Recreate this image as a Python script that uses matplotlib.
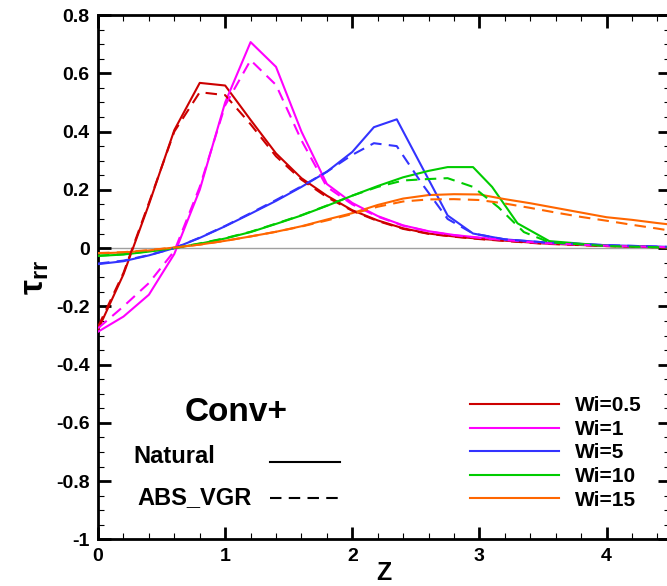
import matplotlib
matplotlib.use('Agg')
import matplotlib.pyplot as plt
from matplotlib.ticker import MultipleLocator, FuncFormatter

plt.rcParams['font.family'] = ['Liberation Sans', 'DejaVu Sans']
plt.rcParams['font.weight'] = 'bold'
plt.rcParams['axes.unicode_minus'] = False
plt.rcParams['mathtext.fontset'] = 'custom'
plt.rcParams['mathtext.rm'] = 'Liberation Sans'
plt.rcParams['mathtext.it'] = 'Liberation Sans'
plt.rcParams['mathtext.bf'] = 'Liberation Sans:bold'

# ---- data (Z, tau_rr) ----
labels = ['Wi=0.5', 'Wi=1', 'Wi=5', 'Wi=10', 'Wi=15']
colors = ['#CC0000', '#FF00FF', '#3333FF', '#00CC00', '#FF6600']

z_grid = [0, 0.2, 0.4, 0.6, 0.8, 1.0, 1.2, 1.4, 1.6, 1.8, 2.0, 2.2, 2.4, 2.6, 2.8, 3.0, 3.5, 4.0, 4.5]

wi05_nat = [-0.28, -0.09, 0.15, 0.405, 0.567, 0.558, 0.44, 0.325, 0.24, 0.18, 0.13, 0.095, 0.068, 0.05, 0.04, 0.032, 0.016, 0.007, 0.002]
wi05_abs = [-0.27, -0.085, 0.155, 0.40, 0.535, 0.525, 0.425, 0.315, 0.235, 0.175, 0.128, 0.093, 0.066, 0.049, 0.039, 0.031, 0.015, 0.007, 0.002]

wi1_nat = [-0.287, -0.235, -0.16, -0.02, 0.20, 0.50, 0.707, 0.622, 0.40, 0.22, 0.155, 0.11, 0.078, 0.058, 0.045, 0.036, 0.018, 0.008, 0.003]
wi1_abs = [-0.275, -0.20, -0.12, -0.01, 0.21, 0.49, 0.645, 0.56, 0.37, 0.21, 0.15, 0.108, 0.077, 0.057, 0.044, 0.035, 0.017, 0.008, 0.003]

z_wi5_nat = [0, 0.2, 0.4, 0.6, 0.8, 1.0, 1.2, 1.4, 1.6, 1.8, 2.0, 2.17, 2.35, 2.75, 2.95, 3.2, 3.5, 4.0, 4.5]
wi5_nat = [-0.055, -0.045, -0.025, 0.0, 0.035, 0.075, 0.118, 0.162, 0.21, 0.262, 0.33, 0.415, 0.442, 0.112, 0.05, 0.03, 0.02, 0.01, 0.004]
z_wi5_abs = [0, 0.2, 0.4, 0.6, 0.8, 1.0, 1.2, 1.4, 1.6, 1.8, 2.0, 2.17, 2.35, 2.55, 2.75, 2.95, 3.2, 3.5, 4.0, 4.5]
wi5_abs = [-0.053, -0.043, -0.024, 0.0, 0.036, 0.076, 0.12, 0.165, 0.212, 0.262, 0.32, 0.36, 0.35, 0.22, 0.10, 0.05, 0.03, 0.02, 0.01, 0.004]

z_wi10_nat = [0, 0.2, 0.4, 0.6, 0.8, 1.0, 1.2, 1.4, 1.6, 1.8, 2.0, 2.2, 2.4, 2.6, 2.75, 2.95, 3.1, 3.3, 3.55, 4.0, 4.5]
wi10_nat = [-0.027, -0.022, -0.012, 0.0, 0.015, 0.033, 0.055, 0.083, 0.112, 0.145, 0.18, 0.213, 0.243, 0.265, 0.278, 0.278, 0.21, 0.085, 0.024, 0.008, 0.002]
z_wi10_abs = [0, 0.2, 0.4, 0.6, 0.8, 1.0, 1.2, 1.4, 1.6, 1.8, 2.0, 2.2, 2.4, 2.55, 2.75, 2.95, 3.15, 3.35, 3.55, 4.0, 4.5]
wi10_abs = [-0.026, -0.021, -0.011, 0.0, 0.016, 0.034, 0.056, 0.084, 0.113, 0.146, 0.18, 0.21, 0.232, 0.236, 0.24, 0.21, 0.14, 0.055, 0.02, 0.007, 0.002]

z_wi15 = [0, 0.2, 0.4, 0.6, 0.8, 1.0, 1.2, 1.4, 1.6, 1.8, 2.0, 2.2, 2.4, 2.6, 2.8, 3.0, 3.2, 3.4, 3.6, 3.8, 4.0, 4.2, 4.4, 4.5]
wi15_nat = [-0.018, -0.015, -0.008, 0.002, 0.012, 0.025, 0.04, 0.056, 0.075, 0.098, 0.12, 0.148, 0.17, 0.182, 0.185, 0.184, 0.168, 0.154, 0.138, 0.122, 0.106, 0.097, 0.086, 0.081]
wi15_abs = [-0.017, -0.014, -0.007, 0.002, 0.012, 0.025, 0.04, 0.056, 0.074, 0.095, 0.117, 0.142, 0.16, 0.167, 0.168, 0.165, 0.153, 0.138, 0.122, 0.107, 0.094, 0.08, 0.067, 0.06]

natural = [(z_grid, wi05_nat), (z_grid, wi1_nat), (z_wi5_nat, wi5_nat), (z_wi10_nat, wi10_nat), (z_wi15, wi15_nat)]
abs_vgr = [(z_grid, wi05_abs), (z_grid, wi1_abs), (z_wi5_abs, wi5_abs), (z_wi10_abs, wi10_abs), (z_wi15, wi15_abs)]

fig = plt.figure(figsize=(6.67, 5.86), dpi=100)
ax = fig.add_axes([0.147, 0.0794, 0.8576, 0.895])

ax.axhline(0, color='#A0A0A0', lw=1.0, zorder=1)

handles = []
for (z, v), c in zip(natural, colors):
    h, = ax.plot(z, v, color=c, lw=1.5, zorder=3)
    handles.append(h)
for (z, v), c in zip(abs_vgr, colors):
    ax.plot(z, v, color=c, lw=1.5, dashes=(5.5, 3.5), zorder=3)

ax.set_xlim(0, 4.5)
ax.set_ylim(-1, 0.8)
ax.xaxis.set_major_locator(MultipleLocator(1))
ax.xaxis.set_minor_locator(MultipleLocator(0.2))
ax.yaxis.set_major_locator(MultipleLocator(0.2))
ax.yaxis.set_minor_locator(MultipleLocator(0.05))
fmt = FuncFormatter(lambda v, p: '%g' % round(v, 3))
ax.xaxis.set_major_formatter(fmt)
ax.yaxis.set_major_formatter(fmt)
ax.tick_params(which='both', direction='in', top=True, right=True)
ax.tick_params(which='major', length=9, width=2, labelsize=14, pad=6)
ax.tick_params(which='minor', length=4.5, width=0.8)
for s in ax.spines.values():
    s.set_linewidth(2)
for t in ax.get_xticklabels() + ax.get_yticklabels():
    t.set_fontweight('bold')

ax.set_xlabel('Z', fontsize=18, fontweight='bold', labelpad=-3)
ax.set_ylabel(r'$\mathrm{\tau}_{\mathbf{rr}}$', fontsize=24, labelpad=4)

# line-style key
ax.text(0.152, 0.242, 'Conv+', transform=ax.transAxes, fontsize=24, fontweight='bold', va='center')
ax.text(0.061, 0.158, 'Natural', transform=ax.transAxes, fontsize=17, fontweight='bold', va='center')
ax.text(0.068, 0.08, 'ABS_VGR', transform=ax.transAxes, fontsize=17, fontweight='bold', va='center')
ax.plot([0.301, 0.423], [0.148, 0.148], transform=ax.transAxes, color='black', lw=1.5)
ax.plot([0.301, 0.423], [0.08, 0.08], transform=ax.transAxes, color='black', lw=1.5, dashes=(5.5, 3.5))

ax.legend(handles, labels, loc='center', bbox_to_anchor=(0.80, 0.165), frameon=False,
          fontsize=15, handlelength=4.3, handletextpad=0.75, labelspacing=0.22, borderpad=0)

fig.savefig('out.png', dpi=100)
